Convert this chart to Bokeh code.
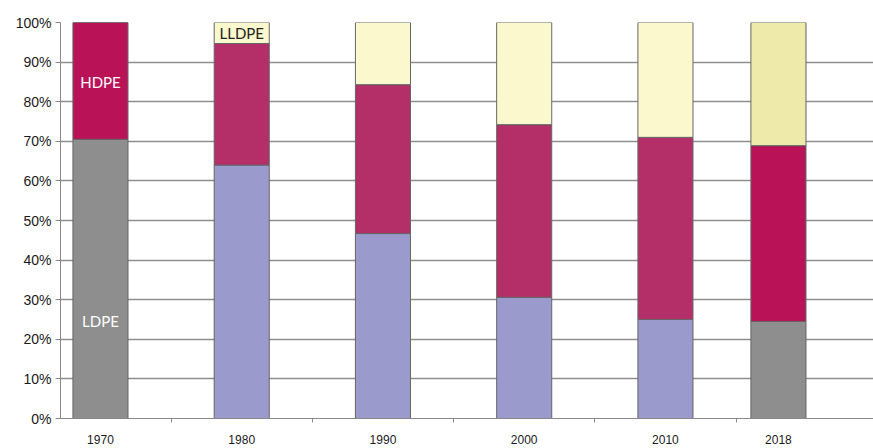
from bokeh.plotting import figure
from bokeh.models import ColumnDataSource, FixedTicker, NumeralTickFormatter, Range1d
from bokeh.core.properties import value
from bokeh.embed import file_html
from bokeh.resources import INLINE

years = [1970, 1980, 1990, 2000, 2010, 2018]
year_labels = ["1970", "1980", "1990", "2000", "2010", "2018"]
ldpe = [70.5, 64.0, 46.7, 30.6, 25.0, 24.5]
hdpe = [29.5, 30.7, 37.6, 43.6, 46.0, 44.4]
lldpe = [0.0, 5.3, 15.7, 25.8, 29.0, 31.1]

ldpe_colors = ["#8e8e8e", "#9a9acd", "#9a9acd", "#9a9acd", "#9a9acd", "#8e8e8e"]
hdpe_colors = ["#ba1257", "#b42e68", "#b42e68", "#b42e68", "#b42e68", "#ba1257"]
lldpe_colors = ["#faf8cc", "#faf8cc", "#faf8cc", "#faf8cc", "#faf8cc", "#eeeaaa"]

f_ldpe = [v / 100 for v in ldpe]
f_hdpe_top = [(a + b) / 100 for a, b in zip(ldpe, hdpe)]
f_lldpe_top = [(a + b + c) / 100 for a, b, c in zip(ldpe, hdpe, lldpe)]

src = ColumnDataSource(dict(
    x=years, zero=[0] * len(years),
    l_top=f_ldpe, h_top=f_hdpe_top, ll_top=f_lldpe_top,
    lc=ldpe_colors, hc=hdpe_colors, llc=lldpe_colors,
))

p = figure(width=873, height=448, output_backend="svg", toolbar_location=None,
           x_range=Range1d(1967.17, 2024.73), y_range=Range1d(0, 1),
           min_border_left=60, min_border_right=0, min_border_top=22, min_border_bottom=30)
p.outline_line_color = None
p.background_fill_color = "white"

bw = 3.9
p.vbar(x="x", bottom="zero", top="l_top", width=bw, fill_color="lc", line_color="#666666", line_width=1, source=src)
p.vbar(x="x", bottom="l_top", top="h_top", width=bw, fill_color="hc", line_color="#666666", line_width=1, source=src)
p.vbar(x="x", bottom="h_top", top="ll_top", width=bw, fill_color="llc", line_color="#666666", line_width=1, source=src)

p.text(x=[years[0]], y=[0.85], text=["HDPE"], text_color="white", text_align="center",
       text_baseline="middle", text_font=value("Lato"), text_font_size="15px")
p.text(x=[years[0]], y=[0.245], text=["LDPE"], text_color="white", text_align="center",
       text_baseline="middle", text_font=value("Lato"), text_font_size="15px")
p.text(x=[years[1]], y=[0.973], text=["LLDPE"], text_color="#222222", text_align="center",
       text_baseline="middle", text_font=value("Lato"), text_font_size="15px")

# axes
p.yaxis.ticker = FixedTicker(ticks=[i / 10 for i in range(11)])
p.yaxis.formatter = NumeralTickFormatter(format="0%")
p.yaxis.major_label_text_font = "Liberation Sans"
p.yaxis.major_label_text_font_size = "14px"
p.yaxis.major_label_text_color = "#1a1a1a"
p.yaxis.axis_line_color = "#888888"
p.yaxis.major_tick_line_color = "#888888"
p.yaxis.major_tick_out = 5
p.yaxis.major_tick_in = 0
p.yaxis.minor_tick_line_color = None
p.yaxis.major_label_standoff = 4

p.xaxis.ticker = FixedTicker(ticks=years, minor_ticks=[1975, 1985, 1995, 2005, 2015])
p.xaxis.major_label_overrides = {y: l for y, l in zip(years, year_labels)}
p.xaxis.major_label_text_font = "Liberation Sans"
p.xaxis.major_label_text_font_size = "12px"
p.xaxis.major_label_text_color = "#1a1a1a"
p.xaxis.axis_line_color = "#888888"
p.xaxis.major_tick_line_color = None
p.xaxis.minor_tick_line_color = "#888888"
p.xaxis.minor_tick_out = 4
p.xaxis.minor_tick_in = 0
p.xaxis.major_label_standoff = 10

p.xgrid.grid_line_color = None
p.ygrid.grid_line_color = "#8e8e8e"
p.ygrid.grid_line_width = 1.5
p.ygrid.level = "underlay"

open("out.html", "w").write(file_html(p, INLINE))
